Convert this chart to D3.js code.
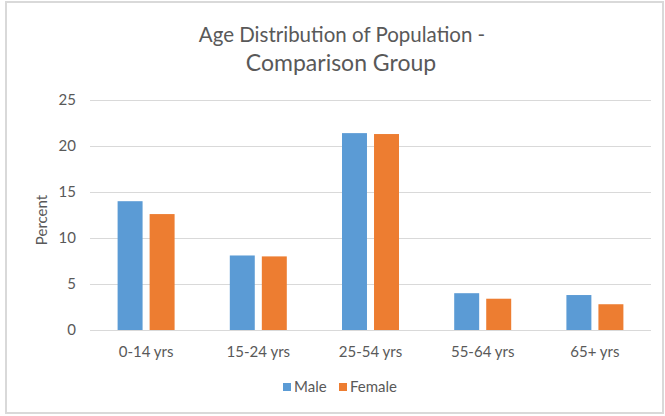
<!DOCTYPE html>
<html>
<head>
<meta charset="utf-8">
<script src="https://cdn.jsdelivr.net/npm/d3@7"></script>
<style>
  html, body { margin: 0; padding: 0; background: #fff; }
  svg { display: block; }
  text { font-family: Lato, "Open Sans", sans-serif; fill: #595959; }
</style>
</head>
<body>
<svg id="chart" width="665" height="416"></svg>
<script>
// Age groups and the share of each sex in them (percent)
const categories = ["0-14 yrs", "15-24 yrs", "25-54 yrs", "55-64 yrs", "65+ yrs"];
const seriesNames = ["Male", "Female"];
const maleValues = [14.0, 8.1, 21.4, 4.0, 3.8];
const femaleValues = [12.6, 8.0, 21.3, 3.4, 2.8];
const yTicks = [0, 5, 10, 15, 20, 25];
const titleLines = ["Age Distribution of Population -", "Comparison Group"];
const yAxisTitle = "Percent";

const colors = { Male: "#5b9bd5", Female: "#ed7d31" };
const seriesValues = { Male: maleValues, Female: femaleValues };

const svg = d3.select("#chart");
const plot = { left: 90, right: 651, top: 100, bottom: 330 };

// chart area frame
svg.append("rect")
  .attr("x", 6).attr("y", 2)
  .attr("width", 657).attr("height", 411)
  .attr("fill", "#fff")
  .attr("stroke", "#d9d9d9")
  .attr("stroke-width", 2);

// title
svg.append("text")
  .attr("x", 342).attr("y", 42)
  .attr("text-anchor", "middle")
  .style("font-size", "20.5px")
  .text(titleLines[0]);
svg.append("text")
  .attr("x", 341).attr("y", 71)
  .attr("text-anchor", "middle")
  .style("font-size", "23px")
  .text(titleLines[1]);

// scales
const y = d3.scaleLinear().domain([0, 25]).range([plot.bottom, plot.top]);
const x0 = d3.scaleBand().domain(categories).range([plot.left, plot.right]).padding(0);
const groupWidth = x0.bandwidth() * 0.508;
const x1 = d3.scaleBand().domain(seriesNames).range([0, groupWidth]).paddingInner(0.22).paddingOuter(0);

// horizontal gridlines
svg.append("g")
  .selectAll("line")
  .data(yTicks)
  .join("line")
  .attr("x1", plot.left).attr("x2", plot.right)
  .attr("y1", d => Math.round(y(d)) + 0.5)
  .attr("y2", d => Math.round(y(d)) + 0.5)
  .attr("stroke", "#d9d9d9")
  .attr("stroke-width", 1);

// y axis labels
const yAxis = d3.axisLeft(y).tickValues(yTicks).tickSize(0).tickPadding(0);
const gy = svg.append("g").attr("transform", `translate(${plot.left - 14},0)`).call(yAxis);
gy.select(".domain").remove();
gy.selectAll("text").style("font-size", "15px").style("font-family", "Lato, sans-serif").attr("fill", "#595959");

// y axis title
svg.append("text")
  .attr("transform", `translate(47,${(plot.top + plot.bottom) / 2 + 5}) rotate(-90)`)
  .attr("text-anchor", "middle")
  .style("font-size", "15px")
  .text(yAxisTitle);

// bars
const groups = svg.append("g")
  .selectAll("g")
  .data(categories)
  .join("g")
  .attr("transform", d => `translate(${x0(d) + (x0.bandwidth() - groupWidth) / 2},0)`);

groups.selectAll("rect")
  .data((d, i) => seriesNames.map(s => ({ s, v: seriesValues[s][i] })))
  .join("rect")
  .attr("x", d => x1(d.s))
  .attr("width", x1.bandwidth())
  .attr("y", d => y(d.v))
  .attr("height", d => y(0) - y(d.v))
  .attr("fill", d => colors[d.s]);

// x axis labels
const xAxis = d3.axisBottom(x0).tickSize(0).tickPadding(0);
const gx = svg.append("g").attr("transform", `translate(0,${plot.bottom + 16})`).call(xAxis);
gx.select(".domain").remove();
gx.selectAll("text").style("font-size", "15px").style("font-family", "Lato, sans-serif").attr("fill", "#595959");

// legend
const legendItems = [
  { name: "Male", sq: 283, tx: 294 },
  { name: "Female", sq: 339, tx: 350 }
];
const legend = svg.append("g");
legendItems.forEach(it => {
  legend.append("rect")
    .attr("x", it.sq).attr("y", 383)
    .attr("width", 8).attr("height", 8)
    .attr("fill", colors[it.name]);
  legend.append("text")
    .attr("x", it.tx).attr("y", 392)
    .style("font-size", "15px")
    .text(it.name);
});
</script>
</body>
</html>
